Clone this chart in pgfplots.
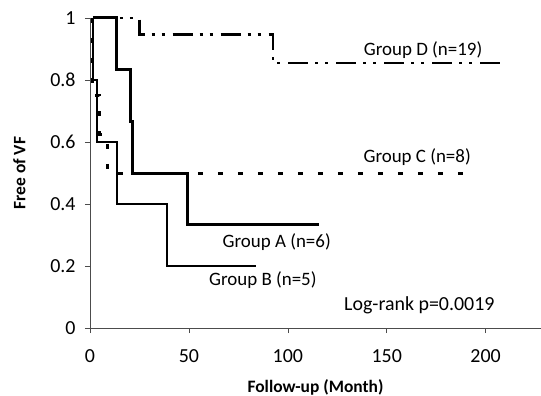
\documentclass[border=0pt]{standalone}
\usepackage{fontspec}
\setmainfont{Carlito}
\usepackage{pgfplots}
\pgfplotsset{compat=1.18}
\begin{document}
\begin{tikzpicture}
\begin{axis}[
  scale only axis, width=451bp, height=310bp,
  xmin=0, xmax=228, ymin=0, ymax=1,
  axis x line=bottom, axis y line=left,
  axis line style={-, line width=0.6bp, black!70},
  xtick={0,50,100,150,200}, ytick={0,0.2,0.4,0.6,0.8,1},
  tick align=outside, major tick length=5bp,
  tick style={line width=0.6bp, black!70},
  /pgf/number format/assume math mode=true,
  ticklabel style={font=\fontsize{20}{24}\selectfont},
  xticklabel style={yshift=-13bp},
  yticklabel style={xshift=-6bp},
  xlabel={\fontsize{17.5}{21}\selectfont\bfseries Follow-up (Month)},
  ylabel={\fontsize{17.5}{21}\selectfont\bfseries Free of VF},
  xlabel style={yshift=-10bp},
  ylabel style={yshift=18bp},
  clip=false,
]
% Group A
\addplot[black, line width=3bp, const plot] coordinates {
 (1.5,1) (13.6,0.833) (20.7,0.667) (21.7,0.5) (49.5,0.333) (116,0.333)};
% Group B
\addplot[black, line width=1.3bp, const plot] coordinates {
 (1.5,1) (1.5,0.8) (3.5,0.6) (13.6,0.4) (38.9,0.2) (84,0.2)};
% Group C
\addplot[black, line width=3bp, dash pattern=on 5bp off 15bp, const plot] coordinates {
 (1.5,1) (1.5,0.875) (1.5,0.75) (5,0.625) (8.6,0.5) (191,0.5)};
% Group D
\addplot[black, line width=2.5bp, dash pattern=on 20bp off 7bp on 3bp off 7bp on 3bp off 8bp, const plot] coordinates {
 (1.5,1) (25,0.947) (92.4,0.855) (210,0.855)};
\node[font=\fontsize{19}{23}\selectfont] at (axis cs:168.4,0.897) {Group D (n=19)};
\node[font=\fontsize{19}{23}\selectfont] at (axis cs:165.4,0.552) {Group C (n=8)};
\node[font=\fontsize{19}{23}\selectfont] at (axis cs:94.4,0.277) {Group A (n=6)};
\node[font=\fontsize{19}{23}\selectfont] at (axis cs:87.4,0.155) {Group B (n=5)};
\node[font=\fontsize{20}{24}\selectfont] at (axis cs:166.5,0.074) {Log-rank p=0.0019};
\end{axis}
\pgfresetboundingbox
\path ([shift={(-90bp,-68bp)}]current axis.south west) rectangle ([shift={(0bp,18bp)}]current axis.north east);
\end{tikzpicture}
\end{document}
